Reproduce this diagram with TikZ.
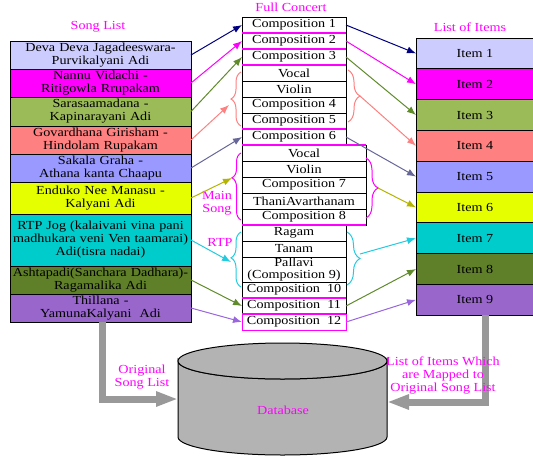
\documentclass[tikz,border=0pt]{standalone}
\usepackage{fontspec}
\setmainfont{Liberation Serif}[FakeStretch=1.15]
\usetikzlibrary{positioning}
\usetikzlibrary{arrows.meta}
\usetikzlibrary{decorations.pathreplacing}
\definecolor{lavender}{HTML}{CCCCFF}
\definecolor{fuchsia}{HTML}{FF00FF}
\definecolor{leaf}{HTML}{9BBB59}
\definecolor{salmon}{HTML}{FF8080}
\definecolor{periwinkle}{HTML}{9999FF}
\definecolor{lemon}{HTML}{E6FF00}
\definecolor{turq}{HTML}{00CCCC}
\definecolor{moss}{HTML}{5F8029}
\definecolor{lilac}{HTML}{9966CC}
\definecolor{navyarrow}{HTML}{000080}
\definecolor{mossarrow}{HTML}{5F8B2A}
\definecolor{slate}{HTML}{666699}
\definecolor{mustard}{HTML}{B3B300}
\definecolor{skyarrow}{HTML}{22CCE0}
\definecolor{lilacarrow}{HTML}{9966DD}
\definecolor{dbgray}{HTML}{B3B3B3}
\definecolor{arrowgray}{HTML}{999999}
\tikzset{song/.style = {draw, line width=1pt, outer sep=0, inner sep=0,
                        text width=181, align=center, anchor=north west}}
\tikzset{item/.style = {draw, line width=1pt, outer sep=0, inner sep=0,
                        minimum width=118, minimum height=30.8, anchor=north west}}
\tikzset{comp/.style = {draw, fill=white, line width=0.8pt, outer sep=0, inner sep=0,
                        minimum width=104, minimum height=16, anchor=north west}}
\tikzset{wide/.style = {comp, minimum width=124}}
\tikzset{link/.style = {line width=1pt, -{Latex[length=9pt,width=7pt]}}}
\tikzset{sepline/.style = {fuchsia, line width=1.2pt}}
\tikzset{curly/.style = {decorate, decoration={brace, amplitude=#1}, line width=1pt}}
\tikzset{title/.style = {text=fuchsia}}
\tikzset{bigarrow/.style = {arrowgray, line width=7pt, -{Triangle[length=22pt,width=14pt]}}}

\begin{document}
\begin{tikzpicture}[x=1pt, y=-1pt, font=\fontsize{12.3}{13}\selectfont]
      \useasboundingbox (0,0) rectangle (533,459);

      \node[title] (songs) at (98,27) {Song List};
      \node[title] (concert) at (291,7) {Full Concert};
      \node[title] (items) at (470,27) {List of Items};

      \node[song, fill=lavender, minimum height=28] (s1) at (10,41) {Deva Deva Jagadeeswara-\\Purvikalyani Adi};
      \node[song, fill=fuchsia, minimum height=28] (s2) at (s1.south west) {Nannu Vidachi -\\Ritigowla Rrupakam};
      \node[song, fill=leaf, minimum height=29] (s3) at (s2.south west) {Sarasaamadana -\\Kapinarayani Adi};
      \node[song, fill=salmon, minimum height=28] (s4) at (s3.south west) {Govardhana Girisham -\\Hindolam Rupakam};
      \node[song, fill=periwinkle, minimum height=28] (s5) at (s4.south west) {Sakala Graha -\\Athana kanta Chaapu};
      \node[song, fill=lemon, minimum height=32] (s6) at (s5.south west) {Enduko Nee Manasu -\\Kalyani Adi};
      \node[song, fill=turq, minimum height=52] (s7) at (s6.south west) {RTP Jog (kalaivani vina pani\\madhukara veni Ven taamarai)\\Adi(tisra nadai)};
      \node[song, fill=moss, minimum height=28] (s8) at (s7.south west) {Ashtapadi(Sanchara Dadhara)-\\Ragamalika Adi};
      \node[song, fill=lilac, minimum height=28] (s9) at (s8.south west) {Thillana -\\YamunaKalyani\ \ Adi};

      \node[comp] (c1) at (242,17) {Composition 1};
      \node[comp] (c2) at (c1.south west) {Composition 2};
      \node[comp] (c3) at (c2.south west) {Composition 3};
      \node[comp] (v1) at (c3.south west) {Vocal};
      \node[comp] (vn1) at (v1.south west) {Violin};
      \node[comp] (c4) at (vn1.south west) {Composition 4};
      \node[comp] (c5) at (c4.south west) {Composition 5};
      \node[comp] (c6) at (c5.south west) {Composition 6};
      \node[wide] (v2) at (c6.south west) {Vocal};
      \node[wide] (vn2) at (v2.south west) {Violin};
      \node[wide] (c7) at (vn2.south west) {Composition 7};
      \node[wide] (ta) at (c7.south west) {ThaniAvarthanam};
      \node[wide] (c8) at (ta.south west) {Composition 8};
      \node[comp] (rg) at (c8.south west) {Ragam};
      \node[comp] (tn) at (rg.south west) {Tanam};
      \node[comp, minimum height=25, align=center] (pl) at (tn.south west) {Pallavi\\[-1pt](Composition 9)};
      \node[comp] (c10) at (pl.south west) {Composition\ \ 10};
      \node[comp] (c11) at (c10.south west) {Composition\ \ 11};
      \node[comp, draw=fuchsia] (c12) at (c11.south west) {Composition\ \ 12};

      \draw[sepline] (c1.south west) -- (c1.south east);
      \draw[sepline] (c2.south west) -- (c2.south east);
      \draw[sepline] (c3.south west) -- (c3.south east);
      \draw[sepline] (c5.south west) -- (c5.south east);
      \draw[sepline] (v2.north west) -- (v2.north east);
      \draw[sepline] (c8.south west) -- (c8.south east);
      \draw[sepline] (c10.south west) -- (c10.south east);
      \draw[sepline] (c11.south west) -- (c11.south east);

      \node[item, fill=lavender] (i1) at (416,38) {Item 1};
      \node[item, fill=fuchsia] (i2) at (i1.south west) {Item 2};
      \node[item, fill=leaf] (i3) at (i2.south west) {Item 3};
      \node[item, fill=salmon] (i4) at (i3.south west) {Item 4};
      \node[item, fill=periwinkle] (i5) at (i4.south west) {Item 5};
      \node[item, fill=lemon] (i6) at (i5.south west) {Item 6};
      \node[item, fill=turq] (i7) at (i6.south west) {Item 7};
      \node[item, fill=moss] (i8) at (i7.south west) {Item 8};
      \node[item, fill=lilac] (i9) at (i8.south west) {Item 9};

      \draw[curly=10, salmon] (241,126) -- (241,72);
      \draw[curly=12, salmon] (348,70) -- (348,122);
      \draw[curly=9, fuchsia, decoration={aspect=0.63}] (241,220) -- (241,153);
      \draw[curly=12, fuchsia] (366,158) -- (366,218);
      \draw[curly=10, skyarrow, decoration={aspect=0.53}] (241,287) -- (241,232);
      \draw[curly=13, skyarrow] (347,232) -- (347,285);
      \coordinate (bl1) at (229,105);
      \coordinate (br1) at (360,96);
      \coordinate (bl2) at (232,178);
      \coordinate (br2) at (378,188);
      \coordinate (bl3) at (231,262);
      \coordinate (br3) at (360,254);

      \node[title, align=center] (mainsong) at (217,203) {Main\\Song};
      \node[title] (rtp) at (220,242) {RTP};

      \draw[link, navyarrow] (s1.east) -- (c1.west);
      \draw[link, fuchsia] (s2.east) -- (c2.west);
      \draw[link, mossarrow] (s3.east) -- (c3.west);
      \draw[link, salmon] (s4.east) -- (bl1);
      \draw[link, slate] (s5.east) -- (c6.west);
      \draw[link, mustard] (s6.east) -- (bl2);
      \draw[link, skyarrow] (s7.east) -- (bl3);
      \draw[link, mossarrow] (s8.east) -- (c11.west);
      \draw[link, lilacarrow] (s9.east) -- (c12.west);

      \draw[link, navyarrow] (c1.east) -- (i1.west);
      \draw[link, fuchsia] (c2.east) -- (i2.west);
      \draw[link, mossarrow] (c3.east) -- (i3.west);
      \draw[link, salmon] (br1) -- (i4.west);
      \draw[link, slate] (c6.east) -- (i5.west);
      \draw[link, mustard] (br2) -- (i6.west);
      \draw[link, skyarrow] (br3) -- (i7.west);
      \draw[link, mossarrow] (c11.east) -- (i8.west);
      \draw[link, lilacarrow] (c12.east) -- (i9.west);

      \node[minimum width=209, minimum height=112, inner sep=0, outer sep=0] (db) at (282.5,399) {};
      \filldraw[fill=dbgray, line width=1pt] (178,361) -- (178,437) arc (180:0:104.5 and 18)
        -- (387,361) arc (0:180:104.5 and 18) -- cycle;
      \filldraw[fill=dbgray, line width=1pt] (282.5,361) ellipse (104.5 and 18);
      \node[title] (dbname) at (283,410) {Database};

      \draw[bigarrow] ([xshift=1.5pt]s9.south) |- (db.west);
      \draw[bigarrow] ([xshift=10pt]i9.south) |- ([yshift=-3pt]db.east);
      \node[title, align=center] (orig) at (142,377) {Original\\Song List};
      \node[title, align=center] (mapped) at (443,375) {List of Items Which\\are Mapped to\\Original Song List};
\end{tikzpicture}
\end{document}
